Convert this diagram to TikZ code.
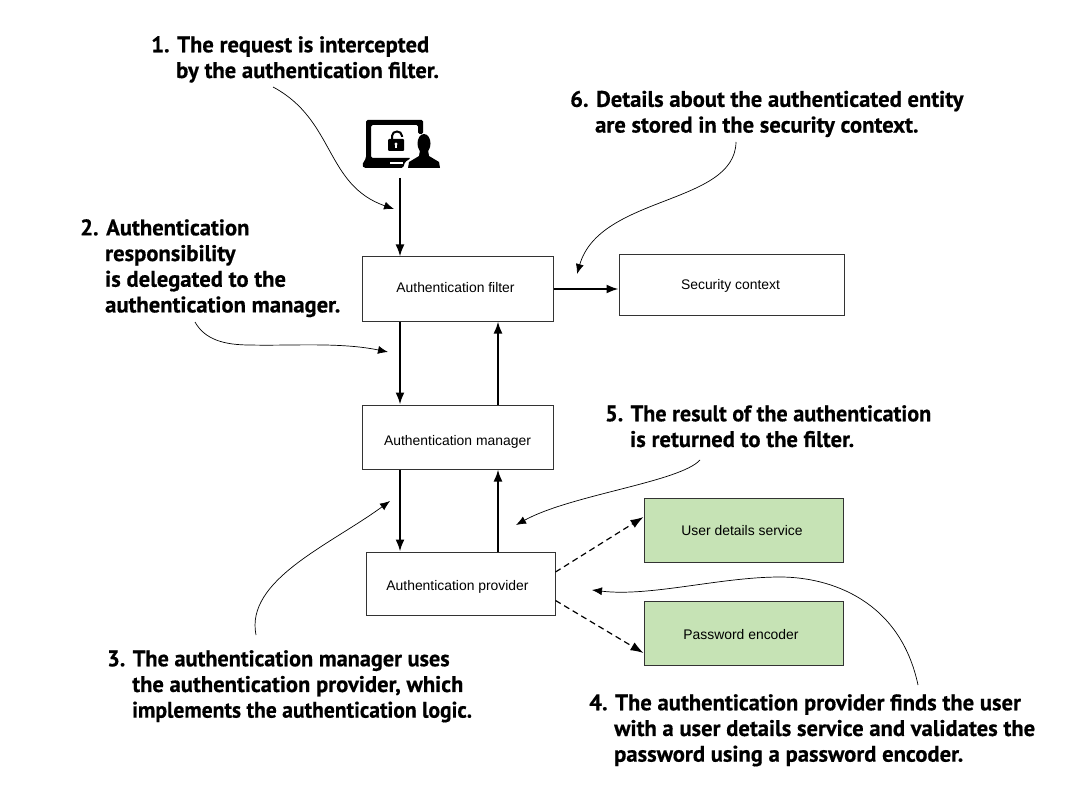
\documentclass[tikz,border=0pt]{standalone}
\usepackage{fontspec}
\setmainfont{Liberation Sans}
\newfontfamily\notefont[FakeBold=0.5]{PT Sans Bold}
\usetikzlibrary{arrows.meta,calc}
\definecolor{boxgreen}{HTML}{C6E3B5}
\tikzset{
  box/.style={draw=black!80,line width=1pt,fill=white,anchor=center,inner sep=0pt,font=\fontsize{13.9}{15}\selectfont},
  greenbox/.style={box,fill=boxgreen},
  flow/.style={line width=2pt,-{Latex[length=12pt,width=9pt]}},
  dep/.style={line width=1.2pt,dash pattern=on 6pt off 4pt,-{Latex[length=13pt,width=9pt]}},
  note/.style={anchor=north west,align=left,inner sep=0pt,font=\notefont\fontsize{22.6}{25.7}\selectfont},
  pointer/.style={line width=.7pt,-{Latex[length=10pt,width=8pt]}}
}
\newcommand{\hang}[1]{\hspace*{#1pt}}
\newcommand{\shifted}[3]{\hspace*{#1pt}\raisebox{#2pt}[0pt][0pt]{#3}}
\begin{document}
\begin{tikzpicture}[x=1pt,y=-1pt]
\useasboundingbox (0,0) rectangle (1065,786);
\fill[white] (0,0) rectangle (1065,786);
% boxes
\node[box,minimum width=191pt,minimum height=64pt] (filter) at (457.5,289) {\shifted{-4}{-4}{Authentication filter}};
\node[box,minimum width=225pt,minimum height=60pt] (context) at (731.5,285) {\shifted{-2}{-5}{Security context}};
\node[box,minimum width=191pt,minimum height=64pt] (manager) at (457.5,437) {\shifted{0}{-8}{Authentication manager}};
\node[box,minimum width=189pt,minimum height=63pt] (provider) at (460.5,583.5) {\shifted{-6}{-6.5}{Authentication provider}};
\node[greenbox,minimum width=199pt,minimum height=64pt] (details) at (743.5,530) {\shifted{-3}{-5}{User details service}};
\node[greenbox,minimum width=199pt,minimum height=64pt] (encoder) at (743.5,633) {\shifted{-5}{-6}{Password encoder}};
% icon
\node[minimum width=78pt,minimum height=48pt,inner sep=0pt] (icon) at (401,144) {};
\fill[black,rounded corners=1.5pt] (366,120) -- (423,120) -- (423,134) -- (418,134) -- (418,125) -- (371,125) -- (371,158) -- (411,158) -- (405,162) -- (403,168) -- (364,168) -- (362,165) -- (366,158) -- cycle;
\fill[white] (390,162) rectangle (403,164);
\fill[black,rounded corners=1pt] (388,139) rectangle (404,151);
\draw[black,line width=2pt] (392,140) -- (392,136) .. controls (392,130) and (402,130) .. (402,136) -- (402,137);
\fill[white] (396,144) circle[radius=1.6];
\fill[white] (395.2,144) rectangle (396.8,148);
\fill[black] (424,143.5) ellipse[x radius=6.5,y radius=9.5];
\fill[black] (420,150) -- (428,150) -- (429,156) -- (439,162) -- (440,168) -- (408,168) -- (409,162) -- (419,156) -- cycle;
% flows
\coordinate (left) at (400,0);
\coordinate (right) at (498,0);
\coordinate (iconfoot) at (400,178);
\draw[flow] (iconfoot) -- (filter.north -| left);
\draw[flow] (filter.south -| left) -- (manager.north -| left);
\draw[flow] (manager.north -| right) -- (filter.south -| right);
\draw[flow] (manager.south -| left) -- (provider.north -| left);
\draw[flow] (provider.north -| right) -- (manager.south -| right);
\draw[flow] (filter.east) -- (context.west |- filter.east);
\coordinate (provA) at ($(provider.east)+(0,-11.5)$);
\coordinate (provB) at ($(provider.east)+(0,17)$);
\coordinate (detA) at ($(details.west)+(0,-13)$);
\coordinate (encA) at ($(encoder.west)+(0,20)$);
\draw[dep] (provA) -- (detA);
\draw[dep] (provB) -- (encA);
% notes
\node[note] (n1) at (151,36) {1. The request is intercepted\\\hang{25}by the authentication filter.};
\node[note] (n2) at (80,219) {2. Authentication\\\hang{25}responsibility\\\hang{25}is delegated to the\\\hang{25}authentication manager.};
\node[note] (n3) at (107,650) {\scalebox{0.985}[1]{3. The authentication manager uses}\\\hang{25}the authentication provider, which\\\hang{25}\scalebox{0.955}[1]{implements the authentication logic.}};
\node[note] (n4) at (589,694) {4. The authentication provider finds the user\\\hang{25}with a user details service and validates the\\\hang{25}password using a password encoder.};
\node[note] (n5) at (605,405) {\scalebox{0.98}[1]{5. The result of the authentication}\\\hang{25}is returned to the filter.};
\node[note] (n6) at (570,90.5) {6. Details about the authenticated entity\\\hang{25}are stored in the security context.};
% pointers
\coordinate (p1s) at (273,87);   \coordinate (p1e) at (394,209);
\coordinate (p2s) at (195,322);  \coordinate (p2m) at (250,345);  \coordinate (p2e) at (388,352);
\coordinate (p3s) at (256,635);  \coordinate (p3e) at (390,501);
\coordinate (p4s) at (918,685);  \coordinate (p4m) at (780,577);  \coordinate (p4e) at (592,590);
\coordinate (p5s) at (700,460);  \coordinate (p5e) at (516,525);
\coordinate (p6s) at (736,142);  \coordinate (p6e) at (577,274);
\draw[pointer] (p1s) .. controls (335,120) and (325,185) .. (p1e);
\draw[pointer] (p2s) .. controls (205,340) and (225,345) .. (p2m) .. controls (290,346) and (340,342) .. (p2e);
\draw[pointer] (p3s) .. controls (245,580) and (330,545) .. (p3e);
\draw[pointer] (p4s) .. controls (900,600) and (830,577) .. (p4m) .. controls (720,577) and (650,597) .. (p4e);
\draw[pointer] (p5s) .. controls (680,482) and (570,495) .. (p5e);
\draw[pointer] (p6s) .. controls (735,205) and (600,195) .. (p6e);
\end{tikzpicture}
\end{document}
